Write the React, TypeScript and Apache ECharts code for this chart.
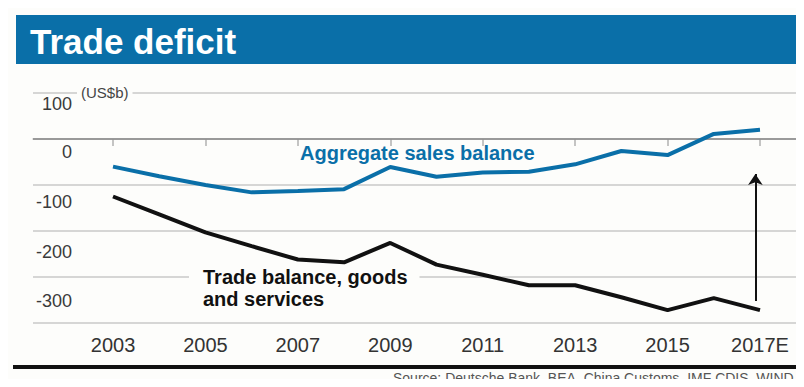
import React, { useEffect, useRef } from "react";
import * as echarts from "echarts";

const years = [2003, 2004, 2005, 2006, 2007, 2008, 2009, 2010, 2011, 2012, 2013, 2014, 2015, 2016, 2017];
const aggregateSales = [-60, -81, -100, -116, -113, -109, -61, -82, -73, -71, -55, -26, -35, 11, 20];
const tradeBalance = [-125, -164, -203, -233, -262, -268, -226, -273, -295, -318, -318, -344, -372, -346, -372];
const tickYears = [2003, 2005, 2007, 2009, 2011, 2013, 2015, 2017];
const arrowX = 2016.9;
const arrowFrom = -352;
const arrowTo = -76;

const BLUE = "#0a6fa8";
const FONT = "'Liberation Sans', Arial, sans-serif";

export default function App() {
  const ref = useRef<HTMLDivElement>(null);
  useEffect(() => {
    const chart = echarts.init(ref.current!, null, { renderer: "svg" });
    const labelOffsets: Record<string, number> = { "100": 11, "0": 13, "-100": 17, "-200": 21, "-300": 24 };
    const keys = Object.keys(labelOffsets);
    const rich: Record<string, any> = {};
    keys.forEach((k, i) => {
      rich["s" + i] = { fontSize: 18, lineHeight: labelOffsets[k] * 2, color: "#3a3a3a", fontFamily: FONT };
    });
    chart.setOption({
      animation: false,
      backgroundColor: "#fdfdfb",
      grid: { left: 33, right: 0, top: 93, bottom: 64 },
      xAxis: {
        type: "value",
        min: 2003 - 80 / 46.21,
        max: 2017 + 44 / 46.21,
        splitLine: { show: false },
        axisLine: { show: true, lineStyle: { color: "#c4c4c4", width: 1.5 } },
        axisTick: { show: true, customValues: tickYears, length: 7, lineStyle: { color: "#b0b0b0", width: 1.5 } },
        axisLabel: {
          customValues: tickYears,
          margin: 12,
          fontSize: 20,
          color: "#333",
          fontFamily: FONT,
          formatter: (v: number) => (v === 2017 ? "2017E" : String(v)),
        },
      },
      yAxis: {
        type: "value",
        min: -400,
        max: 100,
        interval: 100,
        axisLine: { show: false },
        axisTick: { show: false },
        splitLine: { show: true, lineStyle: { color: "#c8c8c8", width: 1.5 } },
        axisLabel: {
          inside: true,
          margin: 39,
          align: "right",
          verticalAlign: "top",
          formatter: (v: number) => {
            const idx = keys.indexOf(String(v));
            return idx < 0 ? "" : `{s${idx}|${v}}`;
          },
          rich,
        },
      },
      series: [
        {
          type: "line",
          name: "Aggregate sales balance",
          data: years.map((y, i) => [y, aggregateSales[i]]),
          symbol: "none",
          lineStyle: { color: BLUE, width: 4 },
          z: 3,
          markLine: {
            silent: true,
            symbol: "none",
            label: { show: false },
            lineStyle: { color: "#8a8a8a", width: 1.5, type: "solid" },
            data: [{ yAxis: 0 }],
            z: 1,
          },
        },
        {
          type: "line",
          name: "Trade balance, goods and services",
          data: years.map((y, i) => [y, tradeBalance[i]]),
          symbol: "none",
          lineStyle: { color: "#111", width: 4 },
          z: 3,
          markLine: {
            silent: true,
            symbol: ["none", "arrow"],
            symbolSize: 11,
            label: { show: false },
            lineStyle: { color: "#111", width: 2, type: "solid" },
            data: [[{ coord: [arrowX, arrowFrom] }, { coord: [arrowX, arrowTo] }]],
          },
        },
      ],
      graphic: [
        { type: "rect", shape: { x: 16, y: 15, width: 800, height: 49 }, style: { fill: BLUE } },
        {
          type: "text",
          x: 30,
          y: 41,
          style: { text: "Trade deficit", fill: "#fff", font: `bold 35px ${FONT}`, textVerticalAlign: "middle" },
        },
        {
          type: "text",
          x: 77,
          y: 92,
          z: 10,
          style: {
            text: "(US$b)",
            fill: "#444",
            font: `15px ${FONT}`,
            textVerticalAlign: "middle",
            backgroundColor: "#fdfdfb",
            padding: [0, 4, 0, 4],
          },
        },
        {
          type: "text",
          x: 300,
          y: 153,
          z: 10,
          style: { text: "Aggregate sales balance", fill: BLUE, font: `bold 20px ${FONT}`, textVerticalAlign: "middle" },
        },
        {
          type: "text",
          x: 189,
          y: 266,
          z: 10,
          style: {
            text: "Trade balance, goods\nand services",
            fill: "#111",
            font: `bold 20px ${FONT}`,
            lineHeight: 22,
            backgroundColor: "#fdfdfb",
            padding: [0, 12, 0, 14],
          },
        },
        { type: "rect", shape: { x: 13, y: 365, width: 800, height: 4 }, style: { fill: "#111" } },
        {
          type: "text",
          x: 393,
          y: 378,
          style: {
            text: "Source: Deutsche Bank, BEA, China Customs, IMF CDIS, WIND",
            fill: "#555",
            font: `14px ${FONT}`,
            textVerticalAlign: "middle",
          },
        },
      ],
    });
    return () => chart.dispose();
  }, []);
  return <div ref={ref} style={{ width: 804, height: 387, margin: -8 }} />;
}
